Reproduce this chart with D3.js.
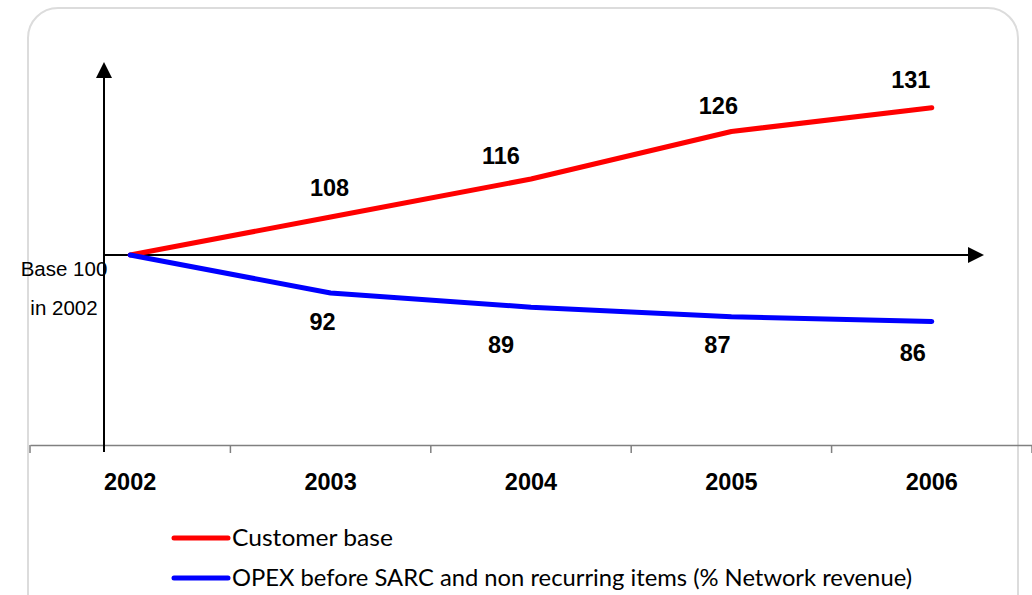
<!DOCTYPE html>
<html><head><meta charset="utf-8">
<script src="https://cdn.jsdelivr.net/npm/d3@7"></script>
<style>body{margin:0;background:#fff}svg{display:block}</style>
</head><body>
<svg id="c" width="1032" height="595"></svg>
<script>
const years = ["2002","2003","2004","2005","2006"];
const customerBase = [100,108,116,126,131];
const opex = [100,92,89,87,86];
const seriesNames = ["Customer base","OPEX before SARC and non recurring items (% Network revenue)"];
const baseLabel = ["Base 100","in 2002"];

const svg = d3.select("#c");
svg.append("rect").attr("x",28).attr("y",8).attr("width",990).attr("height",620)
  .attr("rx",30).attr("ry",30).attr("fill","#fff").attr("stroke","#dcdcdc").attr("stroke-width",2);

const x = d3.scaleBand().domain(years).range([30,1032]);
const cx = d => x(d)+x.bandwidth()/2;
const y = d3.scaleLinear().domain([60,140]).range([445,65]);

// gray category axis
const ax = svg.append("g").attr("transform","translate(0,445)")
  .call(d3.axisBottom(x).tickSize(0).tickFormat(""));
ax.select(".domain").attr("stroke","#808080").attr("stroke-width",1.5);
const bounds = years.map(d=>x(d)).concat([x(years[years.length-1])+x.bandwidth()]);
svg.selectAll(".tk").data(bounds).join("line").attr("x1",d=>d).attr("x2",d=>d)
  .attr("y1",445).attr("y2",453).attr("stroke","#808080").attr("stroke-width",1.5);

svg.selectAll(".yr").data(years).join("text").attr("x",d=>cx(d)).attr("y",490)
  .attr("text-anchor","middle").attr("font-family","Liberation Sans, Arial").attr("font-weight","bold")
  .attr("font-size",23.5).text(d=>d);

// arrows
svg.append("path").attr("d",`M104,452V${y(140)+13}`).attr("stroke","#000").attr("stroke-width",2)
  .attr("fill","none");
svg.append("path").attr("d","M104,62L112,78L96,78Z").attr("fill","#000");
svg.append("line").attr("x1",104).attr("x2",968).attr("y1",y(100)).attr("y2",y(100)).attr("stroke","#000").attr("stroke-width",2);
svg.append("path").attr("d",`M984,${y(100)}L968,${y(100)-8}L968,${y(100)+8}Z`).attr("fill","#000");

// lines
const line = d3.line().x((d,i)=>cx(years[i])).y(d=>y(d));
svg.append("path").datum(customerBase).attr("d",line).attr("fill","none").attr("stroke","#ff0000")
  .attr("stroke-width",5).attr("stroke-linecap","round").attr("stroke-linejoin","round");
svg.append("path").datum(opex).attr("d",line).attr("fill","none").attr("stroke","#0000ff")
  .attr("stroke-width",5).attr("stroke-linecap","round").attr("stroke-linejoin","round");

// value labels
const upDx = [0,-1,-30,-13,-21], upDy = [0,-21,-15,-18,-20];
const dnDx = [0,-8,-30,-14,-19], dnDy = [0,37,46,36,39];
const lab = (data,dx,dy) => data.forEach((v,i)=>{ if(i===0) return;
  svg.append("text").attr("x",cx(years[i])+dx[i]).attr("y",y(v)+dy[i]).attr("text-anchor","middle")
    .attr("font-family","Liberation Sans, Arial").attr("font-weight","bold").attr("font-size",23.5).text(v);});
lab(customerBase,upDx,upDy);
lab(opex,dnDx,dnDy);

svg.selectAll(".bl").data(baseLabel).join("text").attr("x",64).attr("y",(d,i)=>y(100)+21+i*39)
  .attr("text-anchor","middle").attr("font-family","Liberation Sans, Arial").attr("font-size",20.5).text(d=>d);

// legend
const lg = svg.append("g");
seriesNames.forEach((n,i)=>{
  const yy = 538+i*40;
  lg.append("line").attr("x1",174).attr("x2",228).attr("y1",yy).attr("y2",yy)
    .attr("stroke",i?"#0000ff":"#ff0000").attr("stroke-width",5).attr("stroke-linecap","round");
  lg.append("text").attr("x",232).attr("y",yy+8).attr("font-family","Lato, sans-serif").attr("font-size",24)
    .attr("fill","#000").attr("textLength", i ? 680 : 161).attr("lengthAdjust","spacingAndGlyphs").text(n);
});
</script>
</body></html>
